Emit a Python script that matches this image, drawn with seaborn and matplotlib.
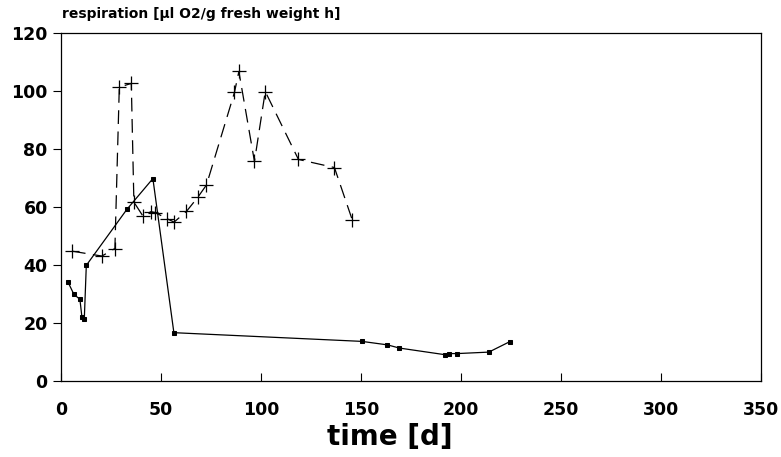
import pandas as pd
import seaborn as sns
import matplotlib.pyplot as plt

# data
time_a = [3.5, 6.5, 9.5, 10.5, 11.7, 12.7, 33.0, 46.0, 56.5, 150.5, 163.3, 169.3,
          192.2, 194.2, 198.2, 214.0, 224.5]
resp_a = [34.2, 29.9, 28.2, 22.1, 21.5, 39.9, 59.2, 69.8, 16.7, 13.7, 12.5, 11.4,
          9.1, 9.5, 9.5, 10.0, 13.6]

time_b = [5.5, 20.5, 27.0, 29.2, 35.2, 36.5, 41.0, 45.0, 47.2, 53.0, 56.6, 62.8,
          68.5, 72.8, 86.8, 89.0, 96.8, 102.2, 118.8, 136.8, 145.8]
resp_b = [44.8, 43.1, 45.7, 101.3, 102.6, 61.7, 56.9, 58.4, 58.1, 56.0, 54.8, 58.5,
          63.4, 67.6, 99.5, 106.7, 75.7, 99.8, 76.4, 73.6, 55.4]

xticks = [0, 50, 100, 150, 200, 250, 300, 350]
yticks = [0, 20, 40, 60, 80, 100, 120]

df_a = pd.DataFrame({'time': time_a, 'resp': resp_a})
df_b = pd.DataFrame({'time': time_b, 'resp': resp_b})

sns.set_style('ticks')
plt.rcParams['font.family'] = ['DejaVu Sans']
plt.rcParams['text.color'] = 'black'
plt.rcParams['xtick.color'] = 'black'
plt.rcParams['ytick.color'] = 'black'

fig = plt.figure(figsize=(7.81, 4.57), dpi=100)
ax = fig.add_axes([0.078, 0.166, 0.896, 0.762])

# solid line with small squares
sns.lineplot(data=df_a, x='time', y='resp', ax=ax, sort=False, estimator=None,
             color='black', linewidth=0.9, marker='s', markersize=3.2,
             markeredgecolor='black')
# dashed line with crosses
sns.lineplot(data=df_b, x='time', y='resp', ax=ax, sort=False, estimator=None,
             color='black', linewidth=0.9, linestyle=(0, (11, 6)), marker='+',
             markersize=10.5, markeredgewidth=0.9, markeredgecolor='black')

ax.set_xlim(0, 350)
ax.set_ylim(0, 120)
ax.set_xticks(xticks)
ax.set_yticks(yticks)
ax.tick_params(axis='x', direction='in', length=6, width=0.8, pad=14,
               labelsize=12.5, labelcolor='black')
ax.tick_params(axis='y', direction='out', length=6, width=0.8, labelsize=12.5,
               labelcolor='black')
for lab in ax.get_xticklabels() + ax.get_yticklabels():
    lab.set_fontweight('bold')
for s in ax.spines.values():
    s.set_linewidth(0.9)
    s.set_color('black')

ax.set_xlabel('time [d]', fontsize=20, fontweight='bold', color='black')
ax.xaxis.set_label_coords(0.47, -0.12)
ax.set_ylabel('')
fig.text(0.080, 0.955, 'respiration [µl O2/g fresh weight h]', fontsize=10,
         fontweight='bold', ha='left', va='bottom', color='black')

fig.savefig('out.png', dpi=100)
